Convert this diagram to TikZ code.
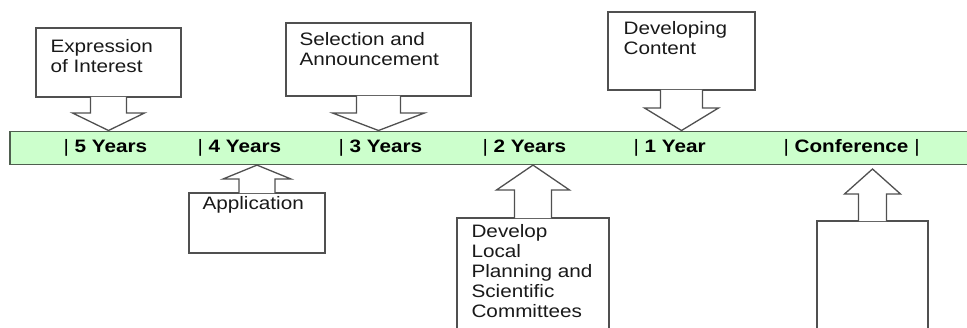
\documentclass[tikz,border=0pt]{standalone}
\usepackage{fontspec}
\setmainfont{Liberation Sans}[FakeStretch=1.15]
\usepackage{xcolor}
\definecolor{BarGreen}{HTML}{CCFFCC}
\definecolor{BarEdge}{HTML}{4F5F4F}
\definecolor{LineGrey}{HTML}{505050}
\usetikzlibrary{calc,positioning}
\tikzstyle{timebar}=[rectangle,draw=BarEdge,fill=BarGreen,line width=1.6pt,anchor=north west]
\tikzstyle{yearlbl}=[anchor=base west,inner sep=0pt,font=\fontsize{18}{20}\selectfont\bfseries]
\tikzstyle{callbox}=[rectangle,draw=LineGrey,fill=white,line width=1.3pt]
\tikzstyle{calltext}=[inner sep=0pt,align=left,anchor=north west,font=\fontsize{18}{20}\selectfont,text=black!90]
\tikzstyle{callline}=[draw=LineGrey,fill=white,line width=1.3pt,line join=miter]
% #1 box anchor, #2 stem half width, #3 wing half width, #4 wing y, #5 tip, #6 inward step
\newcommand\CallArrow[6]{%
  \draw[callline] ($(#1)+(-#2,#6)$) -- ($(#1 |- 0,#4)+(-#2,0)$) -- ($(#1 |- 0,#4)+(-#3,0)$)
    -- (#1 |- #5) -- ($(#1 |- 0,#4)+(#3,0)$) -- ($(#1 |- 0,#4)+(#2,0)$) -- ($(#1)+(#2,#6)$);}

\begin{document}
\begin{tikzpicture}[x=1pt,y=-1pt]
      \useasboundingbox (0,0) rectangle (967,327);
      \clip (0,0) rectangle (967,327);
      % time line
      \node[timebar,minimum width=980pt,minimum height=33pt] (bar) at (9,130.5) {};
      \node[yearlbl] (y5) at (63.3,152) {\textmd{|} 5 Years};
      \node[yearlbl] (y4) at (197.3,152) {\textmd{|} 4 Years};
      \node[yearlbl] (y3) at (338.3,152) {\textmd{|} 3 Years};
      \node[yearlbl] (y2) at (482.3,152) {\textmd{|} 2 Years};
      \node[yearlbl] (y1) at (633.3,152) {\textmd{|} 1 Year};
      \node[yearlbl] (conf) at (783.3,152) {\textmd{|} Conference \textmd{|}};
      % callouts above
      \node[callbox,minimum width=145pt,minimum height=69pt] (expr) at (108.5,62.5) {};
      \node[calltext,below right=12pt and 15pt of expr.north west] (expr-t) {Expression\\of Interest};
      \CallArrow{expr.south}{18}{36}{113}{bar.north}{-0.7}
      \node[callbox,minimum width=185pt,minimum height=73pt] (sel) at (378.5,59.5) {};
      \node[calltext,below right=10pt and 14pt of sel.north west] (sel-t) {Selection and\\Announcement};
      \CallArrow{sel.south}{22}{46}{113}{bar.north}{-0.7}
      \node[callbox,minimum width=147pt,minimum height=78pt] (cont) at (681.5,51) {};
      \node[calltext,below right=10pt and 16pt of cont.north west] (cont-t) {Developing\\Content};
      \CallArrow{cont.south}{21}{37}{108}{bar.north}{-0.7}
      % callouts below
      \node[callbox,minimum width=136pt,minimum height=60pt] (appl) at (257,223) {};
      \node[calltext,below right=4pt and 14pt of appl.north west] (appl-t) {Application};
      \CallArrow{appl.north}{18}{34}{179}{bar.south}{0.7}
      \node[callbox,minimum width=152pt,minimum height=124pt] (dev) at (533,280) {};
      \node[calltext,below right=7pt and 15pt of dev.north west] (dev-t) {Develop\\Local\\Planning and\\Scientific\\Committees};
      \CallArrow{dev.north}{18.5}{36.5}{190}{bar.south}{0.7}
      \node[callbox,minimum width=111pt,minimum height=128pt] (confbox) at (872.5,285) {};
      \CallArrow{confbox.north}{14}{28}{194}{0,169}{0.7}
   \end{tikzpicture}
\end{document}
